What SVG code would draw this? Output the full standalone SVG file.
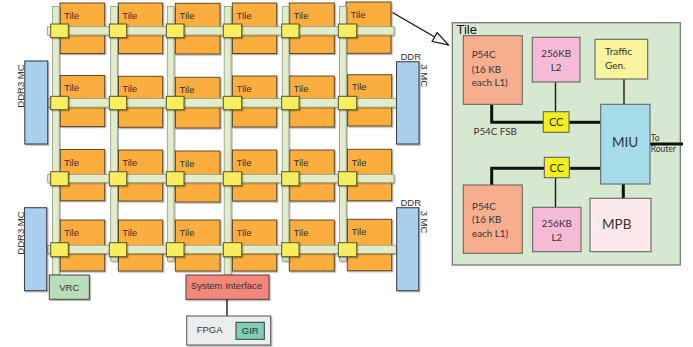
<svg xmlns="http://www.w3.org/2000/svg" width="693" height="347" viewBox="0 0 693 347">
<defs>
<filter id="sh" x="-10%" y="-10%" width="130%" height="130%">
<feDropShadow dx="1.2" dy="1.2" stdDeviation="0.6" flood-color="#000" flood-opacity="0.3"/>
</filter>
<marker id="hollow" markerWidth="18" markerHeight="12" refX="17" refY="6" orient="auto" markerUnits="userSpaceOnUse">
<polygon points="1,1 17,6 1,11" fill="#fff" stroke="#111" stroke-width="1.2"/>
</marker>
<style>
.tile{fill:#fbae3c;stroke:#5e4a2c;stroke-width:1;filter:url(#sh)}
.vb,.hb{fill:#e2ecca;stroke:#8e9c80;stroke-width:0.8;filter:url(#sh)}
.rt{fill:#f6ee5f;stroke:#5a5428;stroke-width:1;filter:url(#sh)}
.ddr{fill:#aacfee;stroke:#3c4650;stroke-width:1.1;filter:url(#sh)}
.g{font-family:"Liberation Sans",Arial,sans-serif;font-size:9.5px;fill:#333}
.d{font-family:Lato,"Open Sans",sans-serif;fill:#333}
.box{stroke:#666;stroke-width:1.1}
.thin{stroke:#1a1a1a;stroke-width:1.4;fill:none}
.thick{stroke:#111;stroke-width:3;fill:none}
</style>
</defs>

<!-- grid tiles -->
<g id="tile-r1c1"><rect class="tile" x="60" y="3" width="44.7" height="50.5"/><text class="g" x="64" y="18.5">Tile</text></g>
<g id="tile-r1c2"><rect class="tile" x="118.3" y="3" width="44.4" height="50.5"/><text class="g" x="122.3" y="18.5">Tile</text></g>
<g id="tile-r1c3"><rect class="tile" x="175.3" y="3.3" width="44.7" height="50.7"/><text class="g" x="179.5" y="19">Tile</text></g>
<g id="tile-r1c4"><rect class="tile" x="232.3" y="3" width="44.4" height="50.5"/><text class="g" x="236.5" y="18.5">Tile</text></g>
<g id="tile-r1c5"><rect class="tile" x="289.3" y="3" width="45" height="50.5"/><text class="g" x="293.5" y="18.5">Tile</text></g>
<g id="tile-r1c6"><rect class="tile" x="346" y="2" width="45" height="51.3"/><text class="g" x="350.5" y="18">Tile</text></g>

<g id="tile-r2c1"><rect class="tile" x="60" y="75.5" width="44.7" height="51"/><text class="g" x="64" y="91">Tile</text></g>
<g id="tile-r2c2"><rect class="tile" x="118.3" y="76.3" width="44.4" height="51"/><text class="g" x="122.3" y="91.8">Tile</text></g>
<g id="tile-r2c3"><rect class="tile" x="175.3" y="77.3" width="44.7" height="50.7"/><text class="g" x="179.5" y="92.5">Tile</text></g>
<g id="tile-r2c4"><rect class="tile" x="232.3" y="76" width="44.4" height="51"/><text class="g" x="236.5" y="91.5">Tile</text></g>
<g id="tile-r2c5"><rect class="tile" x="289.3" y="76" width="45" height="51"/><text class="g" x="293.5" y="91.5">Tile</text></g>
<g id="tile-r2c6"><rect class="tile" x="347.7" y="74.7" width="44" height="51.3"/><text class="g" x="351.7" y="90">Tile</text></g>

<g id="tile-r3c1"><rect class="tile" x="60" y="149.5" width="44.7" height="51.2"/><text class="g" x="64" y="165.5">Tile</text></g>
<g id="tile-r3c2"><rect class="tile" x="118.3" y="150" width="44.4" height="51"/><text class="g" x="122.3" y="166">Tile</text></g>
<g id="tile-r3c3"><rect class="tile" x="175.3" y="151" width="44.7" height="51"/><text class="g" x="179.5" y="167">Tile</text></g>
<g id="tile-r3c4"><rect class="tile" x="232.3" y="150" width="44.4" height="51"/><text class="g" x="236.5" y="166">Tile</text></g>
<g id="tile-r3c5"><rect class="tile" x="289.3" y="150" width="45" height="51"/><text class="g" x="293.5" y="166">Tile</text></g>
<g id="tile-r3c6"><rect class="tile" x="347.3" y="149.3" width="44.4" height="51.4"/><text class="g" x="351.5" y="165.5">Tile</text></g>

<g id="tile-r4c1"><rect class="tile" x="60" y="220" width="44.7" height="51"/><text class="g" x="64" y="235.8">Tile</text></g>
<g id="tile-r4c2"><rect class="tile" x="118.3" y="220" width="44.4" height="51"/><text class="g" x="122.3" y="235.8">Tile</text></g>
<g id="tile-r4c3"><rect class="tile" x="175.3" y="220" width="44.7" height="51"/><text class="g" x="179.5" y="235.8">Tile</text></g>
<g id="tile-r4c4"><rect class="tile" x="232.3" y="220" width="44.4" height="51"/><text class="g" x="236.5" y="235.8">Tile</text></g>
<g id="tile-r4c5"><rect class="tile" x="289.3" y="220" width="45" height="51"/><text class="g" x="293.5" y="235.8">Tile</text></g>
<g id="tile-r4c6"><rect class="tile" x="347.3" y="219.3" width="44.4" height="51.4"/><text class="g" x="351.5" y="235.3">Tile</text></g>

<!-- tile detail container -->
<g id="tile-detail">
<rect x="452.3" y="22.7" width="228" height="242.3" fill="#d7e8d1" stroke="#6d6d6d" stroke-width="1.2"/>
<text x="456.5" y="33.5" font-family="'Liberation Sans',Arial,sans-serif" font-size="13" fill="#111">Tile</text>
</g>

<!-- connectors -->
<g id="connectors">
<rect class="vb" x="52.5" y="6.5" width="6.7" height="268.5"/>
<rect class="vb" x="110.7" y="6.5" width="6.7" height="254.5"/>
<rect class="vb" x="167.3" y="6.5" width="6.7" height="254.5"/>
<rect class="vb" x="224.2" y="6.5" width="6.9" height="268.5"/>
<rect class="vb" x="282.2" y="6.5" width="6.7" height="254.5"/>
<rect class="vb" x="339.5" y="6.5" width="6.7" height="254.5"/>
<rect class="hb" x="47.3" y="26.7" width="346.7" height="8.3"/>
<rect class="hb" x="47.7" y="98.5" width="348.8" height="8.6"/>
<rect class="hb" x="47.7" y="174.3" width="346.3" height="8.4"/>
<rect class="hb" x="47.7" y="245.2" width="348.8" height="8.3"/>
<line x1="392.5" y1="12.5" x2="448.5" y2="45" stroke="#111" stroke-width="1.3" marker-end="url(#hollow)"/>
<line class="thin" x1="227" y1="299.3" x2="227" y2="316" stroke-width="1.2"/>
<polyline class="thick" points="491.7,104.3 491.7,122.3 543.3,122.3"/>
<line class="thick" x1="569" y1="122.3" x2="600.7" y2="122.3"/>
<line class="thin" x1="555.5" y1="82" x2="555.5" y2="111.7"/>
<line class="thin" x1="624" y1="79" x2="624" y2="104.3" stroke-width="1.6"/>
<line class="thick" x1="650" y1="144" x2="683" y2="144"/>
<polyline class="thick" points="544.3,168.3 491.7,168.3 491.7,185"/>
<line class="thick" x1="569.3" y1="168.3" x2="600.7" y2="168.3"/>
<line class="thin" x1="555.5" y1="177.7" x2="555.5" y2="207.3"/>
<line class="thick" x1="623.3" y1="184" x2="623.3" y2="198.3"/>
</g>

<!-- routers -->
<g id="routers">
<rect class="rt" x="50.7" y="24" width="17.6" height="13.6"/>
<rect class="rt" x="109.3" y="24" width="17.4" height="13.6"/>
<rect class="rt" x="166.3" y="24" width="17.7" height="13.6"/>
<rect class="rt" x="223.3" y="24" width="18.4" height="13.6"/>
<rect class="rt" x="281.7" y="24" width="17.3" height="13.6"/>
<rect class="rt" x="338.3" y="24" width="18.4" height="13.6"/>
<rect class="rt" x="50.7" y="96.3" width="17.6" height="13.4"/>
<rect class="rt" x="109.3" y="96.3" width="17.4" height="13.4"/>
<rect class="rt" x="166.3" y="96.3" width="17.7" height="13.4"/>
<rect class="rt" x="223.3" y="96.3" width="18.4" height="13.4"/>
<rect class="rt" x="281.7" y="96.3" width="17.3" height="13.4"/>
<rect class="rt" x="338.3" y="96.3" width="18.4" height="13.4"/>
<rect class="rt" x="50.7" y="171.7" width="17.6" height="14"/>
<rect class="rt" x="109.3" y="171.7" width="17.4" height="14"/>
<rect class="rt" x="166.3" y="171.7" width="17.7" height="14"/>
<rect class="rt" x="223.3" y="171.7" width="18.4" height="14"/>
<rect class="rt" x="281.7" y="171.7" width="17.3" height="14"/>
<rect class="rt" x="338.3" y="171.7" width="18.4" height="14"/>
<rect class="rt" x="50.7" y="242.7" width="17.6" height="14"/>
<rect class="rt" x="109.3" y="242.7" width="17.4" height="14"/>
<rect class="rt" x="166.3" y="242.7" width="17.7" height="14"/>
<rect class="rt" x="223.3" y="242.7" width="18.4" height="14"/>
<rect class="rt" x="281.7" y="242.7" width="17.3" height="14"/>
<rect class="rt" x="338.3" y="242.7" width="18.4" height="14"/>
</g>

<!-- memory controllers -->
<g id="ddr-left-1"><rect class="ddr" x="24.8" y="61" width="22.9" height="83"/><text class="g" x="24" y="86" transform="rotate(-90 24 86)" text-anchor="middle" font-size="10">DDR3 MC</text></g>
<g id="ddr-left-2"><rect class="ddr" x="24.5" y="207.7" width="22.2" height="83"/><text class="g" x="24" y="233" transform="rotate(-90 24 233)" text-anchor="middle" font-size="10">DDR3 MC</text></g>
<g id="ddr-right-1"><rect class="ddr" x="396.5" y="61.7" width="22.5" height="82.3"/><text class="g" x="400.5" y="60">DDR</text><text class="g" x="420.5" y="64.3" transform="rotate(90 420.5 64.3)">3 MC</text></g>
<g id="ddr-right-2"><rect class="ddr" x="396.7" y="207.7" width="22" height="83"/><text class="g" x="400.5" y="205.7">DDR</text><text class="g" x="420.5" y="210.7" transform="rotate(90 420.5 210.7)">3 MC</text></g>

<g id="vrc"><rect x="49.3" y="275" width="40" height="24.3" fill="#b9dcb9" stroke="#3e4a3e" stroke-width="1" filter="url(#sh)"/><text class="g" x="69.3" y="290.7" text-anchor="middle" font-size="10">VRC</text></g>
<g id="system-interface"><rect x="186" y="275" width="83" height="24.3" fill="#f2877a" stroke="#5a3a36" stroke-width="1" filter="url(#sh)"/><text class="g" x="226.5" y="288.5" text-anchor="middle">System Interface</text></g>
<g id="fpga"><rect x="186.7" y="316" width="84" height="29" fill="#eceded" stroke="#555" stroke-width="1" filter="url(#sh)"/><text class="g" x="196.7" y="333.3" fill="#444">FPGA</text></g>
<g id="gir"><rect x="236" y="322.3" width="28.3" height="17" fill="#80ccb6" stroke="#2d3d38" stroke-width="1"/><text class="g" x="250.2" y="334.3" text-anchor="middle">GIR</text></g>

<!-- tile detail components -->
<g id="p54c-top"><rect class="box" x="463.3" y="35.7" width="59" height="68.6" fill="#f7ae8f"/><text class="d" font-size="9.8"><tspan x="471.7" y="58.3">P54C</tspan><tspan x="471.7" y="72.5">(16 KB</tspan><tspan x="471.7" y="86">each L1)</tspan></text></g>
<g id="l2-top"><rect class="box" x="532.3" y="37.3" width="47.7" height="44.7" fill="#f5bbd6"/><text class="d" font-size="9.8" text-anchor="middle"><tspan x="556.2" y="56.7">256KB</tspan><tspan x="556.2" y="70.7">L2</tspan></text></g>
<g id="traffic-gen"><rect class="box" x="595" y="39.3" width="52.7" height="39.7" fill="#f8f39c"/><text class="d" font-size="10"><tspan x="605" y="55">Traffic</tspan><tspan x="605" y="69">Gen.</tspan></text></g>
<g id="cc-top"><rect class="box" x="543.3" y="111.7" width="25.7" height="20.6" fill="#f4ee1c"/><text class="d" x="556.2" y="126" font-size="11" text-anchor="middle">CC</text></g>
<text class="d" x="473.5" y="135" font-size="9.8">P54C FSB</text>
<g id="miu"><rect class="box" x="600.7" y="104.3" width="49.3" height="79.7" fill="#a6dbea"/><text class="d" x="625" y="147.3" font-size="13.5" text-anchor="middle">MIU</text></g>
<text class="d" font-size="8.5"><tspan x="650.7" y="140.7">To</tspan><tspan x="650.7" y="152.3">Router</tspan></text>
<g id="cc-bottom"><rect class="box" x="544.3" y="157.3" width="25" height="20.4" fill="#f4ee1c"/><text class="d" x="556.8" y="171.5" font-size="11" text-anchor="middle">CC</text></g>
<g id="p54c-bottom"><rect class="box" x="463.3" y="185" width="59" height="68.3" fill="#f7ae8f"/><text class="d" font-size="9.8"><tspan x="472" y="210">P54C</tspan><tspan x="472" y="223.3">(16 KB</tspan><tspan x="472" y="236.7">each L1)</tspan></text></g>
<g id="l2-bottom"><rect class="box" x="532.7" y="207.3" width="48.3" height="44.4" fill="#f5bbd6"/><text class="d" font-size="9.8" text-anchor="middle"><tspan x="556.8" y="226.7">256KB</tspan><tspan x="556.8" y="240.7">L2</tspan></text></g>
<g id="mpb"><rect class="box" x="590" y="198.3" width="61" height="53.4" fill="#fde9eb"/><text class="d" x="616.7" y="229.3" font-size="13.5" text-anchor="middle">MPB</text></g>
</svg>
